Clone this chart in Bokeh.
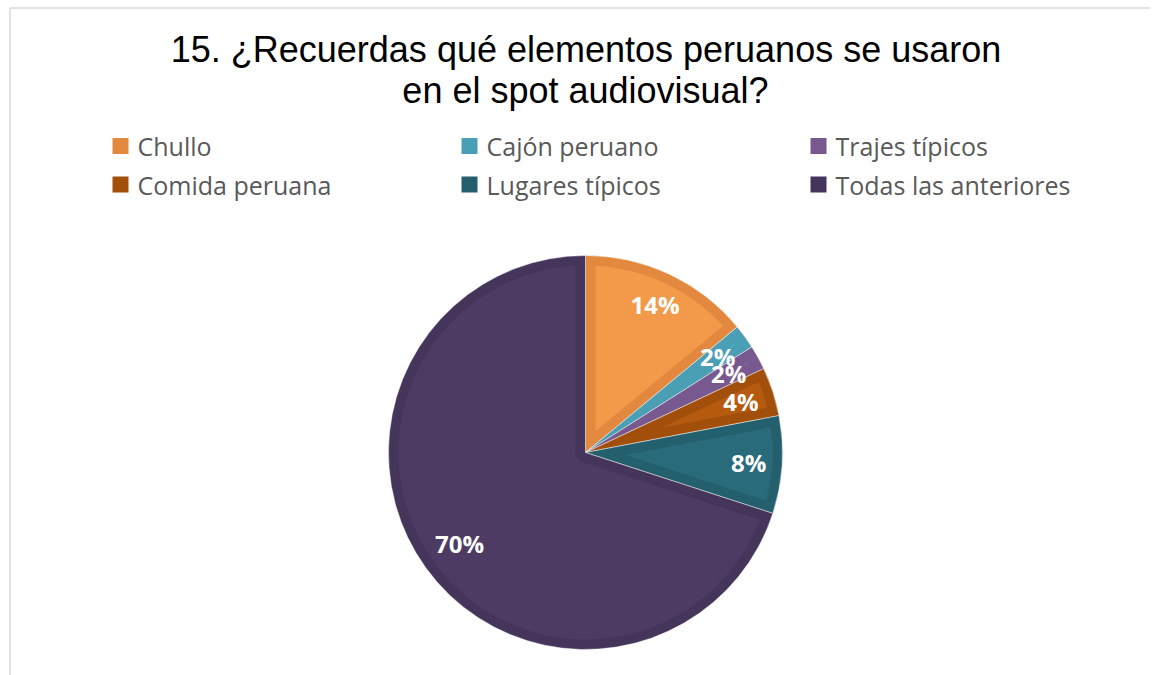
import numpy as np
from bokeh.plotting import figure
from bokeh.models import Range1d, ColumnDataSource
from bokeh.core.properties import value
from bokeh.embed import file_html
from bokeh.resources import INLINE

# ---------------- data ----------------
title_lines = ["15. ¿Recuerdas qué elementos peruanos se usaron",
               "en el spot audiovisual?"]
categories = ["Chullo", "Cajón peruano", "Trajes típicos",
              "Comida peruana", "Lugares típicos", "Todas las anteriores"]
percentages = [14, 2, 2, 4, 8, 70]
band_colors = ["#E2893F", "#4A9FB5", "#77598F", "#A24F0C", "#245F6E", "#45355A"]
fill_colors = ["#F29A49", "#4BA4BA", "#7B5E98", "#B65A10", "#2A6B7B", "#4D3B63"]

# ---------------- layout constants ----------------
W, H = 1150, 675
def px(xp):  # page x -> data x
    return xp
def py(yp):  # page y -> data y
    return H - yp

CX, CY, R = px(585), py(452), 197.0
BAND = 10.0

p = figure(width=W, height=H, x_range=Range1d(0, W), y_range=Range1d(0, H),
           output_backend="svg", toolbar_location=None, min_border=0,
           x_axis_location=None, y_axis_location=None)
p.grid.visible = False
p.outline_line_color = None
p.background_fill_color = "white"
p.border_fill_color = "white"

# chart border (top + left visible)
p.segment(x0=[px(9.5), px(9.5)], y0=[py(7.5), py(7.5)], x1=[W, px(9.5)], y1=[py(7.5), 0],
          line_color="#D9D9D9", line_width=1.5)

# ---------------- title ----------------
p.text(x=[px(585.5), px(585)], y=[py(48.5), py(89.5)], text=title_lines,
       text_font=value("Liberation Sans"), text_font_size="36px",
       text_color="#000000", text_align="center", text_baseline="middle")

# ---------------- legend ----------------
col_x = [px(120), px(469), px(818)]
row_y = [py(145.5), py(184)]
lx, ly = [], []
for i in range(len(categories)):
    lx.append(col_x[i % 3]); ly.append(row_y[i // 3])
p.rect(x=lx, y=ly, width=16, height=16, fill_color=band_colors, line_color=None)
p.text(x=[x + 17 for x in lx], y=ly, text=categories,
       text_font=value("Open Sans"), text_font_size="25px", text_color="#595959",
       text_align="left", text_baseline="middle")

# ---------------- pie ----------------
vals = np.array(percentages, dtype=float)
cum = np.concatenate([[0], np.cumsum(vals)]) / vals.sum()
start = np.pi / 2 - 2 * np.pi * cum[:-1]   # clockwise from 12 o'clock
end = np.pi / 2 - 2 * np.pi * cum[1:]

src = ColumnDataSource(dict(start=start, end=end, band=band_colors, fill=fill_colors))
p.wedge(x=CX, y=CY, radius=R, start_angle="end", end_angle="start",
        direction="anticlock", fill_color="band", line_color="white",
        line_alpha=0.45, line_width=1, source=src)

def inset_polygon(a, b, d, Rr):
    """Sector from a to b (ccw), inset by d."""
    th = b - a
    ro = Rr - d
    if th < np.pi:
        m = (a + b) / 2
        s = d / np.sin(th / 2)
        if s >= ro:
            return None
        P = np.array([s * np.cos(m), s * np.sin(m)])
        pts = [P]
        def hit(ang):
            u = np.array([np.cos(ang), np.sin(ang)])
            pu = P @ u
            t = -pu + np.sqrt(pu * pu - P @ P + ro * ro)
            return P + t * u
        q1, q2 = hit(a), hit(b)
        a1, a2 = np.arctan2(q1[1], q1[0]), np.arctan2(q2[1], q2[0])
        while a2 < a1:
            a2 += 2 * np.pi
        arc = np.linspace(a1, a2, 60)
        pts += [np.array([ro * np.cos(t), ro * np.sin(t)]) for t in arc]
        pts = np.array(pts)
    else:
        dl = np.arcsin(d / ro)
        arc = np.linspace(a + dl, b - dl, 200)
        outer = np.c_[ro * np.cos(arc), ro * np.sin(arc)]
        inner_arc = np.linspace(b - np.pi / 2, a + np.pi / 2, 80)
        inner = np.c_[d * np.cos(inner_arc), d * np.sin(inner_arc)]
        pts = np.vstack([outer, inner])
    return pts

xs, ys, cols = [], [], []
for i in range(len(vals)):
    poly = inset_polygon(end[i], start[i], BAND, R)
    if poly is None:
        continue
    xs.append(list(poly[:, 0] + CX)); ys.append(list(poly[:, 1] + CY)); cols.append(fill_colors[i])
p.patches(xs=xs, ys=ys, fill_color=cols, line_color=None)

# ---------------- data labels ----------------
mid = (start + end) / 2
LR = np.where(vals > 50, 0.79, 0.83) * R
p.text(x=CX + LR * np.cos(mid), y=CY + LR * np.sin(mid),
       text=[f"{v}%" for v in percentages],
       text_font=value("Open Sans"), text_font_style="bold", text_font_size="24px",
       text_color="white", text_align="center", text_baseline="middle")

open("out.html", "w").write(file_html(p, INLINE))
